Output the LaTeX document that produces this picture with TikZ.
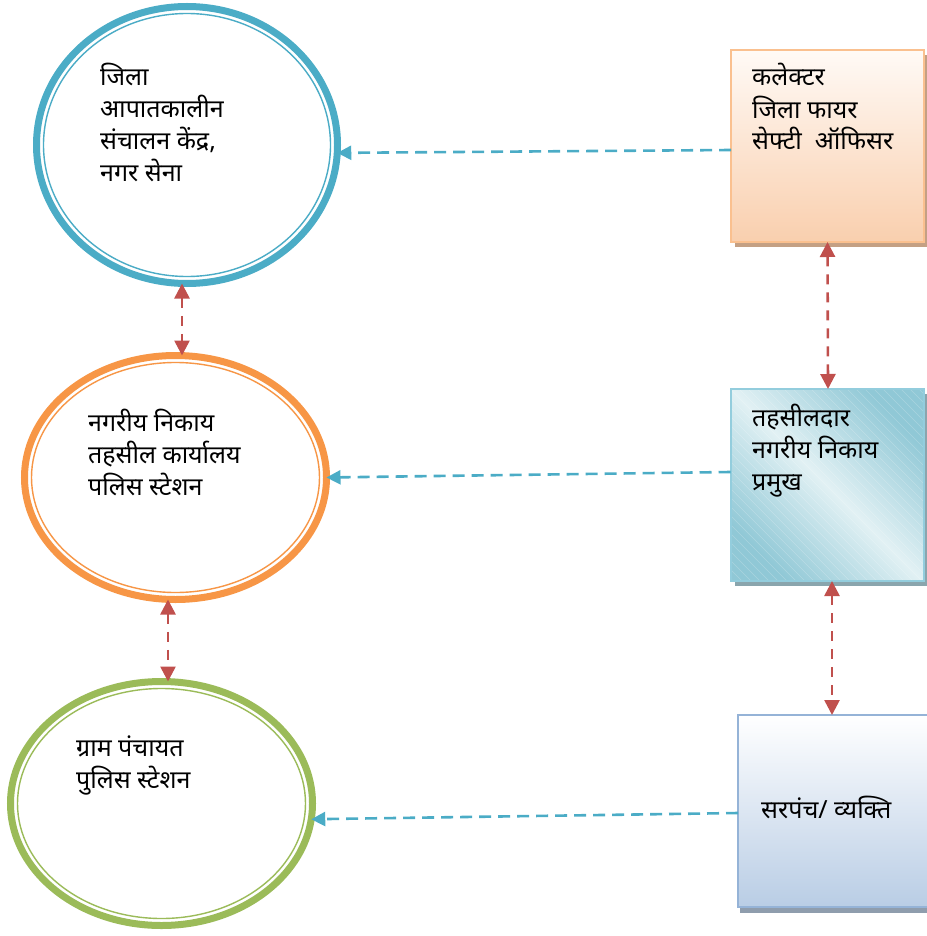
\documentclass[tikz,border=0pt]{standalone}
\usepackage{fontspec}
\newfontfamily\dev[Script=Devanagari]{Noto Sans}
\usetikzlibrary{shapes.geometric,arrows.meta,shadows}
\definecolor{eblue}{HTML}{4BACC6}
\definecolor{eorange}{HTML}{F79646}
\definecolor{egreen}{HTML}{9BBB59}
\definecolor{ared}{HTML}{C0504D}
\definecolor{peachtop}{HTML}{FFFAF6}
\definecolor{peachbot}{HTML}{F9CFAE}
\definecolor{peachline}{HTML}{FAC08F}
\definecolor{peachshadow}{HTML}{C4A084}
\definecolor{tealdark}{HTML}{90C8D6}
\definecolor{teallight}{HTML}{E2F1F4}
\definecolor{tealline}{HTML}{93CDDD}
\definecolor{tealshadow}{HTML}{8AA5AD}
\definecolor{bluetop}{HTML}{FFFFFF}
\definecolor{bluebot}{HTML}{B9CDE5}
\definecolor{blueline}{HTML}{95B3D7}
\definecolor{blueshadow}{HTML}{8F9DAD}
\begin{document}
\begin{tikzpicture}[x=1pt,y=-1pt,
  ring/.style={ellipse, line width=7pt, inner sep=0pt, outer sep=0pt, fill=white},
  thinring/.style={line width=1.4pt},
  boxnode/.style={rectangle, line width=2pt, inner sep=0pt, outer sep=0pt,
     minimum width=193pt, minimum height=192pt},
  label/.style={font=\dev\fontsize{25}{32}\selectfont, align=left, inner sep=0pt, anchor=base west, text=black},
  bluearrow/.style={draw=eblue, line width=2.6pt, dash pattern=on 12pt off 7pt,
     -{Triangle[width=14pt,length=14pt]}, color=eblue},
  redarrow/.style={draw=ared, line width=2.6pt, dash pattern=on 10pt off 8pt,
     {Triangle[width=15pt,length=15pt]}-{Triangle[width=15pt,length=15pt]}, color=ared}
]
\useasboundingbox (0,0) rectangle (926,936);

% ellipses
\node[ring, draw=eblue, minimum width=301pt, minimum height=277pt] (e1) at (187,145) {};
\draw[thinring, eblue] (e1.center) ellipse [x radius=143.5, y radius=131.5];
\node[ring, draw=eorange, minimum width=302pt, minimum height=244pt] (e2) at (175.5,477.5) {};
\draw[thinring, eorange] (e2.center) ellipse [x radius=144, y radius=115];
\node[ring, draw=egreen, minimum width=302pt, minimum height=244pt] (e3) at (161.5,803.5) {};
\draw[thinring, egreen] (e3.center) ellipse [x radius=144, y radius=115];

% boxes
\node[boxnode, draw=peachline, top color=peachtop, bottom color=peachbot,
  drop shadow={shadow xshift=4pt, shadow yshift=-5pt, fill=peachshadow, opacity=1}] (b1) at (827.5,146) {};
\node[boxnode, draw=tealline, top color=tealdark, bottom color=tealdark, middle color=teallight, shading angle=-45,
  drop shadow={shadow xshift=4pt, shadow yshift=-5pt, fill=tealshadow, opacity=1}] (b2) at (827,485) {};
\begin{scope}
  \clip (731,389) rectangle (923,581);
  \foreach \i in {-190,-181,...,190}{
    \draw[white, opacity=0.22, line width=0.5pt] (827+\i-100,385) -- (827+\i+100,585);
  }
\end{scope}
\draw[tealline, line width=2pt] (b2.north west) rectangle (b2.south east);
\node[boxnode, draw=blueline, top color=bluetop, bottom color=bluebot,
  drop shadow={shadow xshift=2pt, shadow yshift=-6pt, fill=blueshadow, opacity=1}] (b3) at (834.5,811) {};

% texts (anchored at the baseline of the last line)
\node[label] (t1) at (100,182) {जिला\\आपातकालीन\\संचालन केंद्र,\\नगर सेना};
\node[label] (t2) at (88,495) {नगरीय निकाय\\तहसील कार्यालय\\पलिस स्टेशन};
\node[label] (t3) at (76,788) {ग्राम पंचायत\\पुलिस स्टेशन};
\node[label] (t4) at (752,150) {कलेक्टर\\जिला फायर\\सेफ्टी\ \ ऑफिसर};
\node[label] (t5) at (752,490) {तहसीलदार\\नगरीय निकाय\\प्रमुख};
\node[label] (t6) at (761,818) {सरपंच/ व्यक्ति};

% connectors
\draw[bluearrow] ([yshift=-4pt]b1.west) -- (e1.-3);
\draw[bluearrow] ([yshift=13pt]b2.west) -- (e2.east);
\draw[bluearrow] ([yshift=-2pt]b3.west) -- (e3.-6);
\draw[redarrow] ([xshift=-5pt]e1.south) -- ([xshift=6.5pt]e2.north);
\draw[redarrow] ([xshift=-7.5pt]e2.south) -- ([xshift=6.5pt]e3.north);
\draw[redarrow] (b1.south) -- ([xshift=1pt]b2.north);
\draw[redarrow] ([xshift=5pt]b2.south) -- ([xshift=-2.5pt]b3.north);
\end{tikzpicture}
\end{document}
